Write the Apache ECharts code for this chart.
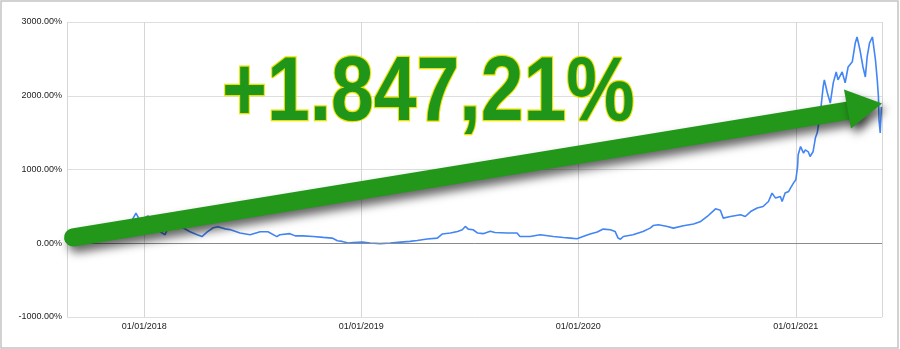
<!DOCTYPE html>
<html>
<head>
<meta charset="utf-8">
<script src="https://cdn.jsdelivr.net/npm/echarts@6/dist/echarts.min.js"></script>
<style>
  html, body { margin: 0; padding: 0; background: #fff; }
  #chart { width: 900px; height: 349px; }
</style>
</head>
<body>
<div id="chart"></div>
<script>
// ---- data ----
const dates = [
  '2017-08-24','2017-09-15','2017-10-11','2017-11-13','2017-11-30','2017-12-12','2017-12-18','2017-12-25','2017-12-28',
  '2018-01-07','2018-01-14','2018-01-21','2018-01-28','2018-02-05','2018-02-10','2018-02-17','2018-02-25','2018-03-07',
  '2018-03-19','2018-03-31','2018-04-08','2018-04-17','2018-04-27','2018-05-05','2018-05-17','2018-05-25','2018-06-11',
  '2018-06-28','2018-07-15','2018-07-28','2018-08-12','2018-08-17','2018-09-03','2018-09-12','2018-09-25','2018-10-12',
  '2018-10-29','2018-11-13','2018-11-22','2018-11-30','2018-12-10','2018-12-18',
  '2019-01-03','2019-01-16','2019-02-02','2019-02-19','2019-03-08','2019-03-24','2019-04-05','2019-04-22','2019-05-09',
  '2019-05-17','2019-05-31','2019-06-12','2019-06-20','2019-06-25','2019-06-30','2019-07-08','2019-07-16','2019-07-25',
  '2019-08-06','2019-08-14','2019-09-03','2019-09-20','2019-09-25','2019-10-12','2019-10-29','2019-11-20','2019-12-07',
  '2019-12-19','2019-12-30',
  '2020-01-09','2020-01-21','2020-02-02','2020-02-12','2020-02-24','2020-03-03','2020-03-08','2020-03-12','2020-03-17',
  '2020-04-02','2020-04-19','2020-05-01','2020-05-06','2020-05-15','2020-05-30','2020-06-09','2020-06-26','2020-07-13',
  '2020-07-24','2020-08-05','2020-08-14','2020-08-19','2020-08-27','2020-09-01','2020-09-13','2020-09-30','2020-10-08',
  '2020-10-17','2020-10-28','2020-11-07','2020-11-16','2020-11-22','2020-11-28','2020-12-06','2020-12-09','2020-12-14',
  '2020-12-20','2020-12-23','2020-12-28',
  '2021-01-01','2021-01-04','2021-01-05','2021-01-09','2021-01-14','2021-01-17','2021-01-22','2021-01-25','2021-01-30',
  '2021-02-03','2021-02-06','2021-02-11','2021-02-16','2021-02-18','2021-02-23','2021-02-28','2021-03-05','2021-03-10',
  '2021-03-13','2021-03-20','2021-03-25','2021-03-30','2021-04-06','2021-04-11','2021-04-14','2021-04-19','2021-04-24',
  '2021-04-28','2021-05-01','2021-05-05','2021-05-10','2021-05-11','2021-05-15','2021-05-18','2021-05-20','2021-05-21',
  '2021-05-23','2021-05-25'
];
const returnsPct = [
  0,-5,50,90,180,320,410,305,330,
  370,330,240,155,115,210,195,225,210,
  155,115,90,155,210,225,195,185,140,
  115,155,155,90,115,130,100,100,92,
  80,70,35,25,3,10,
  15,3,-5,3,15,25,38,57,70,
  125,138,160,183,228,192,183,138,130,
  162,146,138,138,92,92,115,92,78,
  70,60,
  92,125,152,192,183,160,70,55,92,
  115,160,205,240,250,228,205,237,260,
  290,363,430,467,447,341,363,386,363,
  430,477,498,566,680,612,634,566,680,
  702,748,815,
  860,1040,1200,1311,1222,1266,1240,1176,1240,
  1430,1497,1740,2120,2215,2040,1900,2175,2323,
  2215,2323,2175,2390,2460,2715,2797,2620,2390,
  2255,2526,2715,2797,2730,2485,2215,1985,1670,
  1497,1847
];
const xRange = ['2017-08-24', '2021-05-26'];
const yMin = -1000, yMax = 3000, yStep = 1000;
const headline = '+1.847,21%';

// ---- chart ----
const chart = echarts.init(document.getElementById('chart'), null, { renderer: 'canvas' });
const pad = n => (n < 10 ? '0' : '') + n;
const seriesData = dates.map((d, i) => [d, returnsPct[i]]);
const green = '#22971a';

chart.setOption({
  animation: false,
  backgroundColor: '#fff',
  grid: { left: 67, right: 18, top: 22, bottom: 32, containLabel: false },
  xAxis: {
    type: 'time',
    min: xRange[0],
    max: xRange[1],
    minInterval: 365 * 24 * 3600 * 1000,
    axisLine: { show: false },
    axisTick: { show: false },
    splitLine: { show: true, lineStyle: { color: '#d6d6d6', width: 1 } },
    axisLabel: {
      margin: 5,
      fontFamily: 'Arial, Liberation Sans, sans-serif',
      fontSize: 9,
      color: '#222',
      showMinLabel: false,
      showMaxLabel: false,
      formatter: v => { const d = new Date(v); return pad(d.getDate()) + '/' + pad(d.getMonth() + 1) + '/' + d.getFullYear(); }
    }
  },
  yAxis: {
    type: 'value',
    min: yMin, max: yMax, interval: yStep,
    axisLine: { show: false },
    axisTick: { show: false },
    splitLine: { lineStyle: { color: '#dedede', width: 1 } },
    axisLabel: {
      margin: 5,
      fontFamily: 'Arial, Liberation Sans, sans-serif',
      fontSize: 9,
      color: '#222',
      formatter: v => v.toFixed(2) + '%'
    }
  },
  series: [{
    type: 'line',
    data: seriesData,
    showSymbol: false,
    symbol: 'none',
    lineStyle: { color: '#4285f4', width: 1.6 },
    markLine: {
      silent: true,
      symbol: ['none', 'none'],
      label: { show: false },
      lineStyle: { color: '#8a8a8a', width: 1, type: 'solid' },
      data: [{ yAxis: 0 }]
    }
  }],
  graphic: [
    {
      type: 'rect', z: 100, silent: true,
      shape: { x: 1, y: 1, width: 897, height: 347 },
      style: { fill: 'none', stroke: '#c4c4c4', lineWidth: 1.5 }
    },
    {
      type: 'text', z: 110, silent: true,
      x: 222, y: 95, scaleX: 0.845, scaleY: 1,
      style: {
        text: headline,
        x: 0, y: 0,
        font: 'bold 91px "Liberation Sans", Arial, sans-serif',
        fill: '#1f961a',
        stroke: '#ece100',
        lineWidth: 2.5,
        align: 'left',
        verticalAlign: 'middle',
        shadowBlur: 9,
        shadowColor: 'rgba(0,0,0,0.55)',
        shadowOffsetX: 3,
        shadowOffsetY: 4
      }
    },
    {
      type: 'group', z: 120, silent: true,
      children: [
        {
          type: 'line', z: 120,
          shape: { x1: 73, y1: 237.5, x2: 852, y2: 110 },
          style: {
            stroke: green, lineWidth: 18, lineCap: 'round',
            shadowBlur: 10, shadowColor: 'rgba(0,0,0,0.6)', shadowOffsetX: 4, shadowOffsetY: 6
          }
        },
        {
          type: 'polygon', z: 121,
          shape: { points: [[844, 89.5], [851, 128.5], [882, 103.5]] },
          style: {
            fill: green,
            shadowBlur: 10, shadowColor: 'rgba(0,0,0,0.6)', shadowOffsetX: 4, shadowOffsetY: 6
          }
        }
      ]
    }
  ]
});
</script>
</body>
</html>
